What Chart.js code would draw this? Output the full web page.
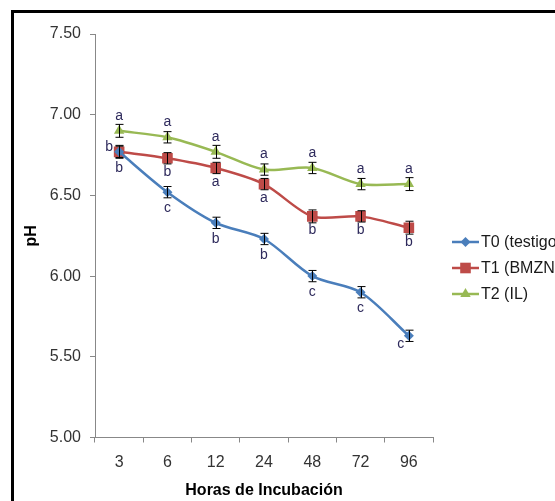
<!DOCTYPE html>
<html>
<head>
<meta charset="utf-8">
<script src="https://cdn.jsdelivr.net/npm/chart.js@4/dist/chart.umd.min.js"></script>
<style>
  html, body { margin: 0; padding: 0; background: #fff; overflow: hidden; }
  #wrap { position: relative; width: 555px; height: 501px; }
</style>
</head>
<body>
<div id="wrap"><canvas id="chart" width="555" height="501"></canvas></div>
<script>
// Hours of incubation (categories)
const horas = ['3', '6', '12', '24', '48', '72', '96'];

// pH means per treatment
const phT0 = [6.77, 6.52, 6.33, 6.23, 6.00, 5.90, 5.63];
const phT1 = [6.77, 6.73, 6.67, 6.57, 6.37, 6.37, 6.30];
const phT2 = [6.90, 6.86, 6.77, 6.66, 6.67, 6.57, 6.57];

// error bar half-widths
const errT0 = [0.035, 0.035, 0.035, 0.035, 0.035, 0.035, 0.035];
const errT1 = [0.04, 0.035, 0.035, 0.035, 0.04, 0.035, 0.04];
const errT2 = [0.04, 0.035, 0.04, 0.035, 0.035, 0.035, 0.04];

// significance letters
const letrasT0 = ['b', 'c', 'b', 'b', 'c', 'c', 'c'];
const letrasT1 = ['b', 'b', 'a', 'a', 'b', 'b', 'b'];
const letrasT2 = ['a', 'a', 'a', 'a', 'a', 'a', 'a'];

const seriesNames = ['T0 (testigo)', 'T1 (BMZNT)', 'T2 (IL)'];
const colors = ['#4a7ebb', '#be4b48', '#98b954'];
const markers = ['rectRot', 'rect', 'triangle'];
const markerSizes = [5, 7.5, 6];

const FONT = 'Arial, "Liberation Sans", sans-serif';

// error bars + letters
const annotations = {
    id: 'annotations',
    afterDatasetsDraw(chart) {
        const ctx = chart.ctx;
        const x = chart.scales.x, y = chart.scales.y;
        const errs = [errT0, errT1, errT2];
        const letters = [letrasT0, letrasT1, letrasT2];
        const vals = [phT0, phT1, phT2];
        ctx.save();
        ctx.strokeStyle = '#000';
        ctx.lineWidth = 1;
        for (let s = 0; s < 3; s++) {
            for (let i = 0; i < horas.length; i++) {
                const px = Math.round(x.getPixelForValue(i)) + 0.5;
                const top = y.getPixelForValue(vals[s][i] + errs[s][i]);
                const bot = y.getPixelForValue(vals[s][i] - errs[s][i]);
                ctx.beginPath();
                ctx.moveTo(px, top); ctx.lineTo(px, bot);
                ctx.moveTo(px - 4, top); ctx.lineTo(px + 4, top);
                ctx.moveTo(px - 4, bot); ctx.lineTo(px + 4, bot);
                ctx.stroke();
            }
        }
        ctx.fillStyle = '#2e2a5c';
        ctx.font = '14px ' + FONT;
        ctx.textAlign = 'center';
        ctx.textBaseline = 'middle';
        for (let s = 0; s < 3; s++) {
            for (let i = 0; i < horas.length; i++) {
                let px = x.getPixelForValue(i);
                let py = y.getPixelForValue(vals[s][i]);
                if (s === 2) {
                    py -= 15;
                } else if (s === 1 && i === 0) {
                    px -= 10; py -= 5;
                } else if (s === 0 && i === horas.length - 1) {
                    px -= 8; py += 8;
                } else if (s === 1) {
                    py += 14;
                } else {
                    py += 16;
                }
                ctx.fillText(letters[s][i], px, py);
            }
        }
        ctx.restore();
    },
    afterDraw(chart) {
        const ctx = chart.ctx;
        ctx.save();
        // frame
        ctx.fillStyle = '#000';
        ctx.fillRect(11, 10, 3, 491);
        ctx.fillRect(11, 10, 544, 3);
        // legend
        const ys = [242, 268, 294];
        ctx.font = '16px ' + FONT;
        ctx.textBaseline = 'middle';
        ctx.textAlign = 'left';
        for (let s = 0; s < 3; s++) {
            ctx.strokeStyle = colors[s];
            ctx.lineWidth = 2.5;
            ctx.beginPath();
            ctx.moveTo(452, ys[s]); ctx.lineTo(479, ys[s]);
            ctx.stroke();
            ctx.fillStyle = colors[s];
            ctx.beginPath();
            Chart.helpers.drawPoint(ctx, {
                pointStyle: markers[s], radius: markerSizes[s], borderWidth: 0
            }, 465.5, ys[s]);
            ctx.fillStyle = '#1a1a1a';
            ctx.fillText(seriesNames[s], 481, ys[s] + 1);
        }
        ctx.restore();
    }
};

function makeDataset(i, data) {
    return {
        label: seriesNames[i],
        data: data,
        borderColor: colors[i],
        backgroundColor: colors[i],
        borderWidth: 2.5,
        tension: 0.3,
        pointStyle: markers[i],
        pointRadius: markerSizes[i],
        pointBorderWidth: 0,
        pointBackgroundColor: colors[i]
    };
}

new Chart(document.getElementById('chart'), {
    type: 'line',
    data: {
        labels: horas,
        datasets: [makeDataset(0, phT0), makeDataset(1, phT1), makeDataset(2, phT2)]
    },
    options: {
        responsive: false,
        animation: false,
        layout: { padding: { left: 18, right: 122, top: 34, bottom: 0 } },
        plugins: { legend: { display: false }, tooltip: { enabled: false } },
        scales: {
            x: {
                offset: true,
                grid: { offset: true, drawOnChartArea: false, color: '#888', tickLength: 5 },
                border: { color: '#888' },
                ticks: { color: '#333', font: { size: 16, family: FONT }, padding: 10 },
                title: { display: true, text: 'Horas de Incubación', color: '#000',
                         padding: { top: 4, bottom: 1 },
                         font: { size: 16, weight: 'bold', family: FONT } },
                afterFit: s => { s.height = 63.5; }
            },
            y: {
                min: 5, max: 7.5,
                ticks: { stepSize: 0.5, color: '#333', font: { size: 16, family: FONT }, padding: 9,
                         callback: v => v.toFixed(2) },
                grid: { drawOnChartArea: false, color: '#888', tickLength: 5 },
                border: { color: '#888' },
                title: { display: true, text: 'pH', color: '#000',
                         font: { size: 16, weight: 'bold', family: FONT } },
                afterFit: s => { s.width = 77; }
            }
        }
    },
    plugins: [annotations]
});
</script>
</body>
</html>
